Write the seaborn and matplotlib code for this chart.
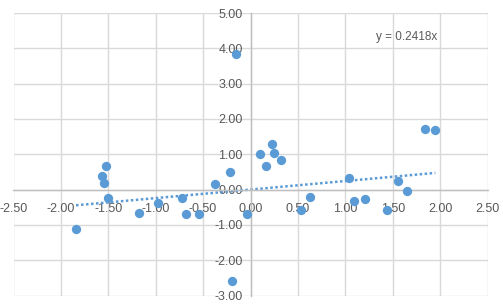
import matplotlib
matplotlib.use("Agg")
import matplotlib.pyplot as plt
import seaborn as sns
import pandas as pd
import numpy as np
from matplotlib.ticker import FormatStrFormatter

x_vals = [-1.84, -1.57, -1.55, -1.52, -1.50, -1.18, -0.98, -0.72, -0.68, -0.54,
          -0.37, -0.22, -0.04, -0.15, -0.19, 0.10, 0.16, 0.23, 0.25, 0.32,
          0.53, 0.63, 1.04, 1.09, 1.21, 1.44, 1.56, 1.65, 1.84, 1.95]
y_vals = [-1.12, 0.38, 0.18, 0.67, -0.24, -0.67, -0.38, -0.24, -0.69, -0.69,
          0.16, 0.50, -0.69, 3.84, -2.59, 1.00, 0.67, 1.29, 1.04, 0.83,
          -0.58, -0.22, 0.32, -0.33, -0.27, -0.58, 0.24, -0.04, 1.71, 1.69]
slope = 0.2418
x_ticks = [-2.5, -2.0, -1.5, -1.0, -0.5, 0.0, 0.5, 1.0, 1.5, 2.0, 2.5]
y_ticks = [-3, -2, -1, 0, 1, 2, 3, 4, 5]
eq_label = "y = 0.2418x"

sns.set_style("white")
plt.rcParams['font.family'] = ['Liberation Sans', 'DejaVu Sans']
plt.rcParams['axes.unicode_minus'] = False

df = pd.DataFrame({"x": x_vals, "y": y_vals})
color = "#5B9BD5"

fig = plt.figure(figsize=(5.03, 3.05), dpi=100)
ax = fig.add_axes([13.5/503, 1-295.5/305, 474/503, 282.5/305])

sns.scatterplot(data=df, x="x", y="y", ax=ax, color=color, s=45, edgecolor=color,
                linewidth=0, zorder=3, legend=False)

tx = np.array([min(x_vals), max(x_vals)])
ax.plot(tx, slope*tx, linestyle=(0, (1, 1)), color=color, linewidth=1.8, zorder=2)

ax.set_xlim(-2.5, 2.5)
ax.set_ylim(-3, 5)
ax.set_xticks(x_ticks)
ax.set_yticks(y_ticks)
ax.xaxis.set_major_formatter(FormatStrFormatter('%.2f'))
ax.yaxis.set_major_formatter(FormatStrFormatter('%.2f'))
ax.grid(True, color="#d9d9d9", linewidth=1)
ax.set_axisbelow(True)
for s in ["top", "right"]:
    ax.spines[s].set_visible(False)
ax.spines["left"].set_position(("data", 0))
ax.spines["bottom"].set_position(("data", 0))
for s in ["left", "bottom"]:
    ax.spines[s].set_color("#bfbfbf")
    ax.spines[s].set_linewidth(1)
ax.tick_params(axis="both", length=0, labelsize=9, labelcolor="#595959")
ax.tick_params(axis="x", pad=9.5)
ax.tick_params(axis="y", pad=5.5)
ax.set_xlabel("")
ax.set_ylabel("")

ax.text(1.65, 4.31, eq_label, fontsize=8.5, color="#595959", ha="center", va="center")

fig.savefig("out.png", dpi=100)
